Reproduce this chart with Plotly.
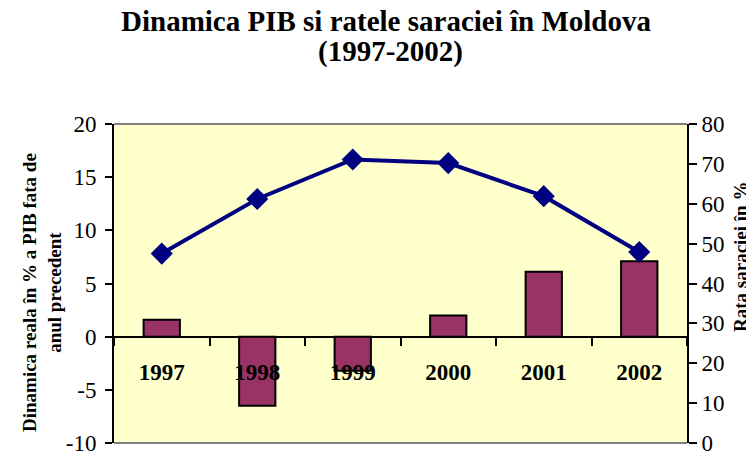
import plotly.graph_objects as go

years = ["1997", "1998", "1999", "2000", "2001", "2002"]
gdp_growth = [1.6, -6.5, -3.2, 2.0, 6.1, 7.1]          # left axis, %
poverty_rate = [47.5, 61.2, 71.1, 70.2, 61.9, 47.9]    # right axis, %
left_ticks = [-10, -5, 0, 5, 10, 15, 20]
left_tick_labels = ["-10", "-5", "0", "5", "10", "15", "20"]
right_ticks = [0, 10, 20, 30, 40, 50, 60, 70, 80]

SERIF = "Liberation Serif, Times New Roman, serif"

# page is offset by the browser's default 8px body margin
OFF = 8
PL, PT, PW, PH = 114, 124, 573, 319   # plot area in page pixels


def px_x(x):
    return (x - PL) / PW


def px_y(y):
    return (PT + PH - y) / PH


fig = go.Figure()
fig.add_trace(go.Bar(
    x=years, y=gdp_growth, yaxis="y", xaxis="x",
    marker=dict(color="#993366", line=dict(color="black", width=2)),
    width=0.38, showlegend=False,
))
fig.add_trace(go.Scatter(
    x=years, y=poverty_rate, yaxis="y2", xaxis="x",
    mode="lines+markers",
    line=dict(color="#000080", width=4),
    marker=dict(symbol="diamond", size=17, color="#000080"),
    showlegend=False,
))

zero_pos = 10 / 30  # fraction of plot height where 0 lies on the left axis

fig.update_layout(
    width=754 - OFF, height=458 - OFF,
    margin=dict(l=PL - OFF, r=754 - PL - PW, t=PT - OFF, b=458 - PT - PH),
    paper_bgcolor="white",
    plot_bgcolor="#FFFFCC",
    font=dict(family=SERIF, color="black", size=20),
    xaxis=dict(
        type="category", automargin=False,
        anchor="free", position=zero_pos,
        showline=False, showgrid=False, zeroline=False,
        ticks="outside", tickson="boundaries", ticklen=8, tickwidth=2,
        tickcolor="black",
        ticklabelstandoff=19,
        tickfont=dict(family=SERIF, size=23, color="black", weight="bold"),
    ),
    xaxis2=dict(
        type="category", matches="x", overlaying="x", automargin=False,
        anchor="free", position=zero_pos,
        showline=False, showgrid=False, zeroline=False,
        ticks="inside", tickson="boundaries", ticklen=8, tickwidth=2,
        tickcolor="black", showticklabels=False,
    ),
    yaxis=dict(
        range=[-10, 20], tickvals=left_ticks, ticktext=left_tick_labels,
        automargin=False, showgrid=False,
        zeroline=True, zerolinecolor="black", zerolinewidth=2,
        showline=True, linecolor="black", linewidth=2,
        ticks="outside", ticklen=7, tickwidth=2, tickcolor="black",
        ticklabelstandoff=4,
        tickfont=dict(family=SERIF, size=23, color="black"),
    ),
    yaxis3=dict(
        range=[-10, 20], dtick=5, matches="y", overlaying="y", side="left",
        automargin=False, showgrid=False, zeroline=False, showline=False,
        ticks="inside", ticklen=5, tickwidth=2, tickcolor="black",
        showticklabels=False,
    ),
    yaxis2=dict(
        range=[0, 80], tickvals=right_ticks, overlaying="y", side="right",
        automargin=False, showgrid=False, zeroline=False,
        showline=True, linecolor="black", linewidth=2,
        ticks="outside", ticklen=8, tickwidth=2, tickcolor="black",
        tickfont=dict(family=SERIF, size=23, color="black"),
    ),
    yaxis4=dict(
        range=[0, 80], dtick=10, matches="y2", overlaying="y", side="right",
        automargin=False, showgrid=False, zeroline=False, showline=False,
        ticks="inside", ticklen=7, tickwidth=2, tickcolor="black",
        showticklabels=False,
    ),
    shapes=[
        dict(type="line", xref="paper", yref="paper", x0=0, x1=1, y0=1, y1=1,
             line=dict(color="#808080", width=2), layer="below"),
        dict(type="line", xref="paper", yref="paper", x0=0, x1=1, y0=0, y1=0,
             line=dict(color="#808080", width=2), layer="below"),
    ],
    annotations=[
        dict(
            text="<b>Dinamica PIB si ratele saraciei în Moldova</b>",
            xref="paper", yref="paper", x=px_x(386), y=px_y(21),
            xanchor="center", yanchor="middle", showarrow=False,
            font=dict(family=SERIF, size=29, color="black"),
        ),
        dict(
            text="<b>(1997-2002)</b>",
            xref="paper", yref="paper", x=px_x(390), y=px_y(51),
            xanchor="center", yanchor="middle", showarrow=False,
            font=dict(family=SERIF, size=29, color="black"),
        ),
        dict(
            text="<b>Dinamica reala în % a PIB fata de<br>anul precedent</b>",
            xref="paper", yref="paper", x=px_x(42), y=px_y(293),
            xanchor="center", yanchor="middle", textangle=-90,
            showarrow=False, font=dict(family=SERIF, size=19, color="black"),
        ),
        dict(
            text="<b>Rata saraciei în %</b>",
            xref="paper", yref="paper", x=px_x(741), y=px_y(257),
            xanchor="center", yanchor="middle", textangle=-90,
            showarrow=False, font=dict(family=SERIF, size=19, color="black"),
        ),
    ],
)

fig.write_html("out.html")
